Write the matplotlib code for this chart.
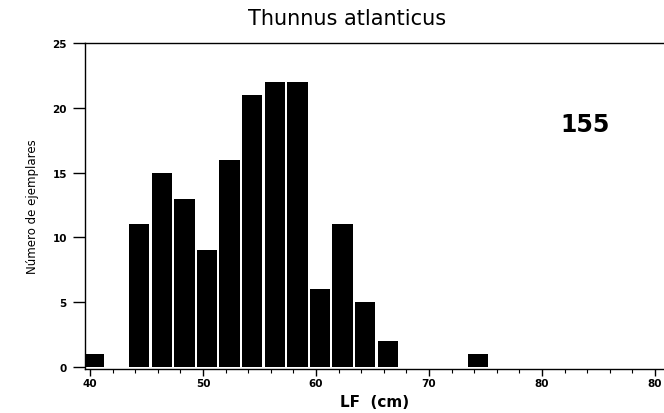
import matplotlib
matplotlib.use("Agg")
import matplotlib.pyplot as plt
from matplotlib.ticker import MultipleLocator

# longitud furcal (cm) y numero de ejemplares
lf = [40, 44, 46, 48, 50, 52, 54, 56, 58, 60, 62, 64, 66, 74]
n = [1, 11, 15, 13, 9, 16, 21, 22, 22, 6, 11, 5, 2, 1]
xticks = [40, 50, 60, 70, 80, 90]
xlabels = ["40", "50", "60", "70", "80", "80"]
yticks = [0, 5, 10, 15, 20, 25]

fig = plt.figure(figsize=(6.64, 4.14), dpi=100)
ax = fig.add_axes([0.128, 0.106, 0.872, 0.788])

ax.bar([v + 0.35 for v in lf], n, width=1.8, color="black")

ax.set_xlim(39.55, 90.8)
ax.set_ylim(-0.15, 25)
ax.set_xticks(xticks)
ax.set_xticklabels(xlabels)
ax.xaxis.set_minor_locator(MultipleLocator(2))
ax.set_yticks(yticks)
ax.spines["right"].set_visible(False)
for s in ["left", "bottom", "top"]:
    ax.spines[s].set_linewidth(1.0)
ax.tick_params(axis="x", direction="out", length=5, width=1, labelsize=7.5, pad=1.5)
ax.tick_params(axis="y", direction="out", length=9, width=1, labelsize=7.5, pad=4)
ax.tick_params(which="minor", direction="out", length=3, width=0.8)
for lab in ax.get_xticklabels() + ax.get_yticklabels():
    lab.set_fontweight("bold")

ax.set_xlabel("LF  (cm)", fontsize=11, fontweight="bold", labelpad=4)
ax.set_ylabel("Número de ejemplares", fontsize=8.5,
              family=["Liberation Sans Narrow", "DejaVu Sans"], labelpad=10)
fig.text(0.523, 0.955, "Thunnus atlanticus", ha="center", va="center",
         fontsize=15, family="DejaVu Sans")
ax.text(83.8, 18.75, "155", ha="center", va="center", fontsize=17,
        fontweight="bold", family="DejaVu Sans")

fig.savefig("out.png", dpi=100)
